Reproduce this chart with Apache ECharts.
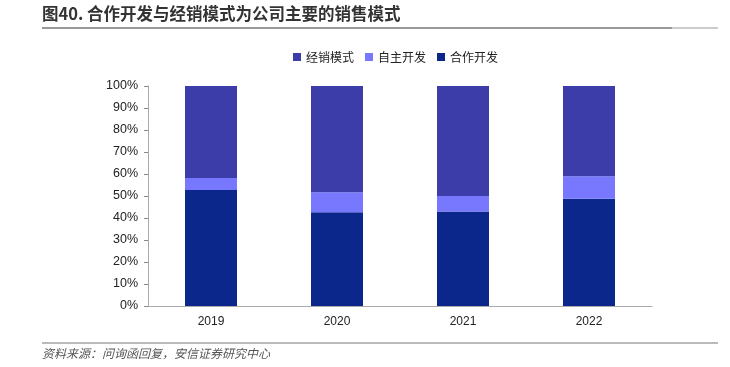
<!DOCTYPE html>
<html lang="zh">
<head>
  <meta charset="UTF-8">
  <title>合作开发与经销模式</title>
  <style>
    html, body { margin: 0; padding: 0; background: #fff; }
    #chart { width: 730px; height: 367px; }
  </style>
</head>
<body>
  <div id="chart"></div>
  <script src="https://cdn.jsdelivr.net/npm/echarts@6/dist/echarts.min.js"></script>
  <script>
    var years = ['2019', '2020', '2021', '2022']
    var coop = [52.7, 42.6, 42.9, 48.8]      // 合作开发
    var selfDev = [5.5, 9.1, 7.1, 10.2]      // 自主开发
    var dealer = [41.8, 48.3, 50.0, 41.0]    // 经销模式

    var cjk = '"Noto Sans CJK SC", sans-serif'
    var chart = echarts.init(document.getElementById('chart'))

    var option = {
      animation: false,
      graphic: [
        { type: 'text', left: 42, top: 5,
          style: { text: '图40. 合作开发与经销模式为公司主要的销售模式', font: 'bold 16.5px ' + cjk, fill: '#333' } },
        { type: 'line', shape: { x1: 42, y1: 28, x2: 672, y2: 28 }, style: { stroke: '#777', lineWidth: 1.5 } },
        { type: 'line', shape: { x1: 672, y1: 28, x2: 718, y2: 28 }, style: { stroke: '#bbb', lineWidth: 1.5 } },
        { type: 'line', shape: { x1: 42, y1: 343, x2: 718, y2: 343 }, style: { stroke: '#777', lineWidth: 1 } },
        { type: 'text', left: 42, top: 347,
          style: { text: '资料来源：问询函回复，安信证券研究中心', font: 'italic 12px ' + cjk, fill: '#555' } }
      ],
      legend: {
        data: ['经销模式', '自主开发', '合作开发'],
        top: 46,
        left: 288,
        itemWidth: 8,
        itemHeight: 8,
        itemGap: 11,
        icon: 'rect',
        textStyle: { fontFamily: cjk, fontSize: 12, color: '#222' }
      },
      grid: { left: 148, right: 78, top: 86, bottom: 61 },
      xAxis: {
        type: 'category',
        data: years,
        axisLine: { lineStyle: { color: '#aaa' } },
        axisTick: { lineStyle: { color: '#888' }, length: 4 },
        axisLabel: { color: '#222', fontSize: 12, fontFamily: 'Liberation Sans, Arial', margin: 10 }
      },
      yAxis: {
        type: 'value',
        min: 0,
        max: 100,
        interval: 10,
        splitLine: { show: false },
        axisLine: { show: true, lineStyle: { color: '#aaa' } },
        axisTick: { show: true, inside: false, length: 4, lineStyle: { color: '#888' } },
        axisLabel: { formatter: '{value}%', color: '#222', fontSize: 12.5, fontFamily: 'Liberation Sans, Arial', margin: 10 }
      },
      series: [
        { name: '合作开发', type: 'bar', stack: 'total', barWidth: 52, data: coop,
          itemStyle: { color: '#0C278C' } },
        { name: '自主开发', type: 'bar', stack: 'total', barWidth: 52, data: selfDev,
          itemStyle: { color: '#7878FF' } },
        { name: '经销模式', type: 'bar', stack: 'total', barWidth: 52, data: dealer,
          itemStyle: { color: '#3D3DAA' } }
      ]
    }
    chart.setOption(option)
  </script>
</body>
</html>
